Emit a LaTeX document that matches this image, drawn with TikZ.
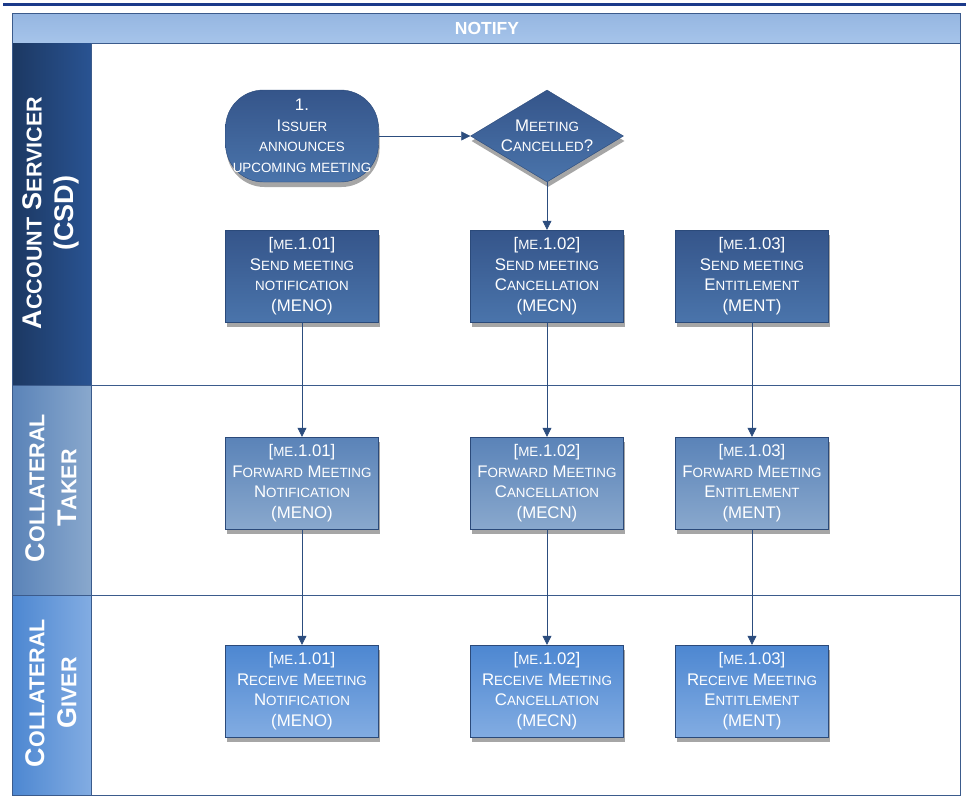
\documentclass[tikz,border=0pt]{standalone}
\usepackage{fontspec}
\setmainfont{Liberation Sans}
\usetikzlibrary{shapes.geometric,shadows,arrows.meta}

\definecolor{rulenavy}{HTML}{1B3A8A}
\definecolor{frameblue}{HTML}{3B5B8C}
\definecolor{edgeblue}{HTML}{2B4A7A}
\definecolor{arrowblue}{HTML}{2C4D7E}
\definecolor{shadowgray}{HTML}{A6A6A6}
\definecolor{titletop}{HTML}{95B6E1}
\definecolor{titlebot}{HTML}{A6C4EA}
\definecolor{laneA}{HTML}{1C3862}
\definecolor{laneB}{HTML}{295392}
\definecolor{acctA}{HTML}{35558A}
\definecolor{acctB}{HTML}{4A74AB}
\definecolor{takerA}{HTML}{5A83B8}
\definecolor{takerB}{HTML}{89A8CD}
\definecolor{giverA}{HTML}{4D87D1}
\definecolor{giverB}{HTML}{82ACE2}

% small caps by hand
\newcommand\sm[1]{{\fontsize{13.4}{20.5}\selectfont #1}}
\newcommand\lsm[1]{{\fontsize{21.5}{32}\selectfont #1}}

\begin{document}
\begin{tikzpicture}[x=1pt, y=-1pt, font=\fontsize{16.8}{20.5}\selectfont,
  task/.style={draw=edgeblue, text=white, align=center, inner sep=1pt,
    minimum width=153pt, minimum height=92pt,
    drop shadow={shadow xshift=1pt, shadow yshift=-5pt, fill=shadowgray, opacity=1}},
  acct/.style={task, top color=acctA, bottom color=acctB},
  taker/.style={task, top color=takerA, bottom color=takerB},
  giver/.style={task, top color=giverA, bottom color=giverB},
  lanetext/.style={text=white, align=center, rotate=90,
    font=\fontsize{27}{32}\selectfont\bfseries},
  flow/.style={draw=arrowblue, semithick, -{Triangle[length=9pt,width=9pt]}}]

%---------------- 尺寸參數 ----------------%
\def\leftX{12}    % 外框左
\def\rightX{960}  % 外框右
\def\topY{13}     % 外框上
\def\botY{795}    % 外框下
\def\titleY{43}   % 標題列下緣
\def\laneX{91}    % 泳道標籤右緣
\def\laneOne{385} % 第一、二泳道分界
\def\laneTwo{595} % 第二、三泳道分界

\useasboundingbox (0,0) rectangle (966,803);

%---------------- 頂端橫線 ----------------%
\draw[rulenavy, line width=3pt] (3,4) -- (966,4);

%---------------- 標題列 ----------------%
\draw[frameblue, top color=titletop, bottom color=titlebot]
  (\leftX,\topY) rectangle (\rightX,\titleY);
\node[text=white, font=\fontsize{17.5}{20}\selectfont\bfseries] (title) at (487,28) {NOTIFY};

%---------------- 泳道標籤 ----------------%
\fill[left color=laneA, right color=laneB]
  (\leftX,\titleY) rectangle (\laneX,\laneOne);
\fill[left color=takerA, right color=takerB]
  (\leftX,\laneOne) rectangle (\laneX,\laneTwo);
\fill[left color=giverA, right color=giverB]
  (\leftX,\laneTwo) rectangle (\laneX,\botY);
\node[lanetext] (servicer) at (51,213) {A\lsm{CCOUNT} S\lsm{ERVICER}\\(CSD)};
\node[lanetext] (taker) at (51,488) {C\lsm{OLLATERAL}\\T\lsm{AKER}};
\node[lanetext] (giver) at (51,693) {C\lsm{OLLATERAL}\\G\lsm{IVER}};

%---------------- 外框與分界線 ----------------%
\draw[frameblue, semithick] (\leftX,\topY) rectangle (\rightX,\botY);
\draw[frameblue, semithick] (\leftX,\laneOne) -- (\rightX,\laneOne);
\draw[frameblue, semithick] (\leftX,\laneTwo) -- (\rightX,\laneTwo);
\draw[frameblue, semithick] (\laneX,\titleY) -- (\laneX,\botY);

%---------------- 起點與判斷 ----------------%
\node[acct, rounded corners=38pt] (start) at (302,136)
  {1.\\I\sm{SSUER}\\\sm{ANNOUNCES}\\\sm{UPCOMING MEETING}};
\node[task, shape=diamond, top color=acctA, bottom color=acctB, inner sep=0pt,
  minimum width=153pt, minimum height=92pt, shape aspect=1.66] (cancel) at (547,136)
  {M\sm{EETING}\\C\sm{ANCELLED}?};

%---------------- 訊息方塊 ----------------%
\foreach \x/\id/\code/\msg/\name in {302/01/MENO/N/otification,
    547/02/MECN/C/ancellation, 752/03/MENT/E/ntitlement} {
  \node[acct] (send\id) at (\x,276)
    {[\sm{ME}.1.\id]\\S\sm{END MEETING}\\\ifnum\id=1 \sm{NOTIFICATION}\else\msg\sm{\MakeUppercase{\name}}\fi\\(\code)};
  \node[taker] (fwd\id) at (\x,483)
    {[\sm{ME}.1.\id]\\F\sm{ORWARD} M\sm{EETING}\\\msg\sm{\MakeUppercase{\name}}\\(\code)};
  \node[giver] (recv\id) at (\x,691)
    {[\sm{ME}.1.\id]\\R\sm{ECEIVE} M\sm{EETING}\\\msg\sm{\MakeUppercase{\name}}\\(\code)};
  \draw[flow] (send\id) -- (fwd\id);
  \draw[flow] (fwd\id) -- (recv\id);
}

%---------------- 連線 ----------------%
\draw[flow] (start) -- (cancel);
\draw[flow] (cancel) -- (send02);

\end{tikzpicture}
\end{document}
